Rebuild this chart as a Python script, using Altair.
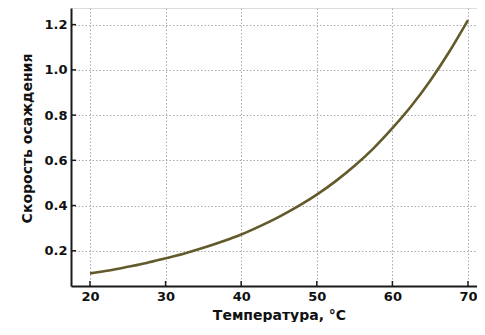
import altair as alt
import pandas as pd

# Data
temperature = [20, 22.5, 25, 27.5, 30, 32.5, 35, 37.5, 40, 42.5, 45, 47.5,
               50, 52.5, 55, 57.5, 60, 62.5, 65, 67.5, 70]
rate = [0.100, 0.113, 0.129, 0.146, 0.167, 0.188, 0.213, 0.241, 0.272, 0.309,
        0.350, 0.396, 0.448, 0.508, 0.576, 0.653, 0.742, 0.840, 0.952, 1.079, 1.220]

x_ticks = [20, 30, 40, 50, 60, 70]
y_ticks = [0.2, 0.4, 0.6, 0.8, 1.0, 1.2]

x_title = "Температура, °C"
y_title = "Скорость осаждения"

df = pd.DataFrame({"t": temperature, "v": rate})
xt = pd.DataFrame({"t": x_ticks})
yt = pd.DataFrame({"v": y_ticks})

W, H = 406, 278
FONT = "DejaVu Sans"

x_scale = alt.Scale(domain=[17.49, 71.19], nice=False, zero=False)
y_scale = alt.Scale(domain=[0.0442, 1.2736], nice=False, zero=False)

grid_dash = [1.5, 2]

line = alt.Chart(df).mark_line(
    color="#625a2b", strokeWidth=2.6, interpolate="monotone"
).encode(
    x=alt.X("t:Q", scale=x_scale,
            axis=alt.Axis(values=x_ticks, title=x_title, grid=True,
                          gridDash=grid_dash, gridColor="#aaaaaa", gridWidth=1,
                          tickSize=0, labelPadding=4, domainColor="#1a1a1a",
                          domainWidth=2, labelFontSize=13, labelFontWeight="bold",
                          labelColor="#111",
                          labelFont=FONT, titleFont=FONT, titleFontSize=14,
                          titleFontWeight="bold", titleColor="#111",
                          titleX=208, titleY=33, titleAnchor="middle",
                          titleAlign="center", titleBaseline="alphabetic",
                          format="d")),
    y=alt.Y("v:Q", scale=y_scale,
            axis=alt.Axis(values=y_ticks, title=y_title, grid=True,
                          gridDash=grid_dash, gridColor="#aaaaaa", gridWidth=1,
                          tickSize=0, labelPadding=4, domainColor="#1a1a1a",
                          domainWidth=2, labelFontSize=13, labelFontWeight="bold",
                          labelColor="#111",
                          labelFont=FONT, titleFont=FONT, titleFontSize=14,
                          titleFontWeight="bold", titleColor="#111",
                          titleX=-44, titleY=130, titleAngle=-90,
                          titleAlign="center", titleBaseline="middle",
                          format=".1f")),
)

xticks = alt.Chart(xt).mark_rule(color="#1a1a1a", strokeWidth=1.5).encode(
    x=alt.X("t:Q", scale=x_scale),
    y=alt.value(H - 5), y2=alt.value(H),
)
yticks = alt.Chart(yt).mark_rule(color="#1a1a1a", strokeWidth=1.5).encode(
    y=alt.Y("v:Q", scale=y_scale),
    x=alt.value(0), x2=alt.value(5),
)

chart = alt.layer(xticks, yticks, line).properties(
    width=W, height=H,
    padding={"left": 63, "top": 0, "right": 0, "bottom": 36},
    autosize=alt.AutoSizeParams(type="none"),
).configure_view(stroke=None).configure(background="white")

chart.save("out.html", embed_options={"renderer": "svg", "actions": False})
